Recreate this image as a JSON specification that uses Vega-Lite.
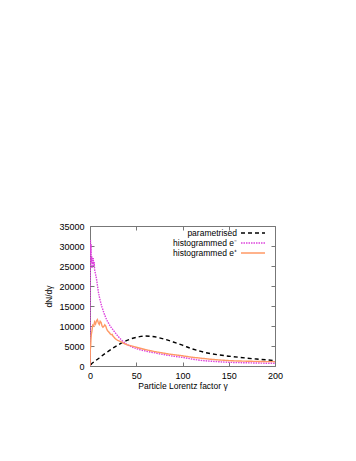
{
  "$schema": "https://vega.github.io/schema/vega-lite/v6.json",
  "autosize": {"type": "none"},
  "padding": {"left": 90, "top": 226, "right": 81, "bottom": 95},
  "width": 185,
  "height": 140,
  "background": "white",
  "config": {
    "font": "Liberation Sans",
    "view": {"stroke": "#777777", "strokeWidth": 1},
    "axis": {"domain": false, "grid": false, "tickColor": "#777777", "tickSize": -4, "labelFontSize": 9, "titleFontSize": 8.5, "titleFontWeight": "normal", "labelColor": "#000000", "titleColor": "#000000", "labelFont": "Liberation Sans", "titleFont": "Liberation Sans", "format": "d", "labelFlush": false, "labelOverlap": false}
  },
  "datasets": {
    "curves": [
      {"s": "parametrised", "g": 1, "v": 300}, {"s": "parametrised", "g": 2, "v": 650}, {"s": "parametrised", "g": 5, "v": 1150}, {"s": "parametrised", "g": 10, "v": 2000}, {"s": "parametrised", "g": 15, "v": 2900}, {"s": "parametrised", "g": 20, "v": 3700}, {"s": "parametrised", "g": 25, "v": 4500}, {"s": "parametrised", "g": 30, "v": 5200}, {"s": "parametrised", "g": 35, "v": 5900}, {"s": "parametrised", "g": 40, "v": 6400}, {"s": "parametrised", "g": 45, "v": 6850}, {"s": "parametrised", "g": 50, "v": 7150}, {"s": "parametrised", "g": 55, "v": 7400}, {"s": "parametrised", "g": 60, "v": 7500}, {"s": "parametrised", "g": 65, "v": 7450}, {"s": "parametrised", "g": 70, "v": 7300}, {"s": "parametrised", "g": 75, "v": 7050}, {"s": "parametrised", "g": 80, "v": 6750}, {"s": "parametrised", "g": 85, "v": 6400}, {"s": "parametrised", "g": 90, "v": 6000}, {"s": "parametrised", "g": 95, "v": 5600}, {"s": "parametrised", "g": 100, "v": 5200}, {"s": "parametrised", "g": 105, "v": 4750}, {"s": "parametrised", "g": 110, "v": 4300}, {"s": "parametrised", "g": 115, "v": 3950}, {"s": "parametrised", "g": 120, "v": 3650}, {"s": "parametrised", "g": 125, "v": 3350}, {"s": "parametrised", "g": 130, "v": 3100}, {"s": "parametrised", "g": 140, "v": 2750}, {"s": "parametrised", "g": 150, "v": 2450}, {"s": "parametrised", "g": 160, "v": 2200}, {"s": "parametrised", "g": 170, "v": 1950}, {"s": "parametrised", "g": 180, "v": 1750}, {"s": "parametrised", "g": 190, "v": 1550}, {"s": "parametrised", "g": 200, "v": 1350},

      {"s": "histogrammed e⁻", "g": 0, "v": 0}, {"s": "histogrammed e⁻", "g": 0.2, "v": 16000}, {"s": "histogrammed e⁻", "g": 0.5, "v": 31500}, {"s": "histogrammed e⁻", "g": 0.8, "v": 28000}, {"s": "histogrammed e⁻", "g": 1.1, "v": 30500}, {"s": "histogrammed e⁻", "g": 1.4, "v": 26000}, {"s": "histogrammed e⁻", "g": 1.8, "v": 27500}, {"s": "histogrammed e⁻", "g": 2.2, "v": 24500}, {"s": "histogrammed e⁻", "g": 2.6, "v": 27000}, {"s": "histogrammed e⁻", "g": 3.0, "v": 25500}, {"s": "histogrammed e⁻", "g": 3.5, "v": 27000}, {"s": "histogrammed e⁻", "g": 4.0, "v": 25000}, {"s": "histogrammed e⁻", "g": 4.5, "v": 26000}, {"s": "histogrammed e⁻", "g": 5, "v": 24000}, {"s": "histogrammed e⁻", "g": 6, "v": 23000}, {"s": "histogrammed e⁻", "g": 7, "v": 21800}, {"s": "histogrammed e⁻", "g": 8, "v": 20200}, {"s": "histogrammed e⁻", "g": 9, "v": 18600}, {"s": "histogrammed e⁻", "g": 10, "v": 17400}, {"s": "histogrammed e⁻", "g": 11, "v": 16400}, {"s": "histogrammed e⁻", "g": 12, "v": 15500}, {"s": "histogrammed e⁻", "g": 13, "v": 14700}, {"s": "histogrammed e⁻", "g": 14, "v": 14000}, {"s": "histogrammed e⁻", "g": 15, "v": 13300}, {"s": "histogrammed e⁻", "g": 16, "v": 12700}, {"s": "histogrammed e⁻", "g": 17, "v": 12100}, {"s": "histogrammed e⁻", "g": 18, "v": 11600}, {"s": "histogrammed e⁻", "g": 19, "v": 11100}, {"s": "histogrammed e⁻", "g": 20, "v": 10700}, {"s": "histogrammed e⁻", "g": 22, "v": 9900}, {"s": "histogrammed e⁻", "g": 24, "v": 9300}, {"s": "histogrammed e⁻", "g": 26, "v": 8700}, {"s": "histogrammed e⁻", "g": 28, "v": 8100}, {"s": "histogrammed e⁻", "g": 30, "v": 7500}, {"s": "histogrammed e⁻", "g": 32, "v": 7000}, {"s": "histogrammed e⁻", "g": 34, "v": 6500}, {"s": "histogrammed e⁻", "g": 36, "v": 6100}, {"s": "histogrammed e⁻", "g": 38, "v": 5700}, {"s": "histogrammed e⁻", "g": 40, "v": 5350}, {"s": "histogrammed e⁻", "g": 45, "v": 4800}, {"s": "histogrammed e⁻", "g": 50, "v": 4350}, {"s": "histogrammed e⁻", "g": 55, "v": 4000}, {"s": "histogrammed e⁻", "g": 60, "v": 3750}, {"s": "histogrammed e⁻", "g": 65, "v": 3500}, {"s": "histogrammed e⁻", "g": 70, "v": 3300}, {"s": "histogrammed e⁻", "g": 75, "v": 3050}, {"s": "histogrammed e⁻", "g": 80, "v": 2850}, {"s": "histogrammed e⁻", "g": 85, "v": 2650}, {"s": "histogrammed e⁻", "g": 90, "v": 2450}, {"s": "histogrammed e⁻", "g": 95, "v": 2300}, {"s": "histogrammed e⁻", "g": 100, "v": 2150}, {"s": "histogrammed e⁻", "g": 110, "v": 1750}, {"s": "histogrammed e⁻", "g": 120, "v": 1400}, {"s": "histogrammed e⁻", "g": 130, "v": 1200}, {"s": "histogrammed e⁻", "g": 140, "v": 1050}, {"s": "histogrammed e⁻", "g": 150, "v": 920}, {"s": "histogrammed e⁻", "g": 160, "v": 850}, {"s": "histogrammed e⁻", "g": 170, "v": 800}, {"s": "histogrammed e⁻", "g": 180, "v": 750}, {"s": "histogrammed e⁻", "g": 190, "v": 700}, {"s": "histogrammed e⁻", "g": 200, "v": 670},

      {"s": "histogrammed e⁺", "g": 0, "v": 0}, {"s": "histogrammed e⁺", "g": 0.3, "v": 4000}, {"s": "histogrammed e⁺", "g": 0.7, "v": 4800}, {"s": "histogrammed e⁺", "g": 1.0, "v": 6500}, {"s": "histogrammed e⁺", "g": 1.5, "v": 8000}, {"s": "histogrammed e⁺", "g": 2.0, "v": 8600}, {"s": "histogrammed e⁺", "g": 2.5, "v": 9500}, {"s": "histogrammed e⁺", "g": 3, "v": 10200}, {"s": "histogrammed e⁺", "g": 4, "v": 10000}, {"s": "histogrammed e⁺", "g": 5, "v": 11000}, {"s": "histogrammed e⁺", "g": 6, "v": 10500}, {"s": "histogrammed e⁺", "g": 7, "v": 11300}, {"s": "histogrammed e⁺", "g": 8, "v": 11600}, {"s": "histogrammed e⁺", "g": 9, "v": 10800}, {"s": "histogrammed e⁺", "g": 10, "v": 10400}, {"s": "histogrammed e⁺", "g": 11, "v": 11200}, {"s": "histogrammed e⁺", "g": 12, "v": 10900}, {"s": "histogrammed e⁺", "g": 13, "v": 10000}, {"s": "histogrammed e⁺", "g": 14, "v": 9700}, {"s": "histogrammed e⁺", "g": 15, "v": 9900}, {"s": "histogrammed e⁺", "g": 16, "v": 10300}, {"s": "histogrammed e⁺", "g": 17, "v": 10000}, {"s": "histogrammed e⁺", "g": 18, "v": 9300}, {"s": "histogrammed e⁺", "g": 19, "v": 8800}, {"s": "histogrammed e⁺", "g": 20, "v": 8600}, {"s": "histogrammed e⁺", "g": 21, "v": 8300}, {"s": "histogrammed e⁺", "g": 22, "v": 8000}, {"s": "histogrammed e⁺", "g": 23, "v": 7800}, {"s": "histogrammed e⁺", "g": 24, "v": 7900}, {"s": "histogrammed e⁺", "g": 25, "v": 7400}, {"s": "histogrammed e⁺", "g": 26, "v": 7200}, {"s": "histogrammed e⁺", "g": 27, "v": 6900}, {"s": "histogrammed e⁺", "g": 28, "v": 6700}, {"s": "histogrammed e⁺", "g": 30, "v": 6400}, {"s": "histogrammed e⁺", "g": 32, "v": 6200}, {"s": "histogrammed e⁺", "g": 34, "v": 6000}, {"s": "histogrammed e⁺", "g": 36, "v": 5700}, {"s": "histogrammed e⁺", "g": 38, "v": 5500}, {"s": "histogrammed e⁺", "g": 40, "v": 5300}, {"s": "histogrammed e⁺", "g": 45, "v": 5000}, {"s": "histogrammed e⁺", "g": 50, "v": 4700}, {"s": "histogrammed e⁺", "g": 55, "v": 4400}, {"s": "histogrammed e⁺", "g": 60, "v": 4100}, {"s": "histogrammed e⁺", "g": 65, "v": 3850}, {"s": "histogrammed e⁺", "g": 70, "v": 3600}, {"s": "histogrammed e⁺", "g": 75, "v": 3400}, {"s": "histogrammed e⁺", "g": 80, "v": 3200}, {"s": "histogrammed e⁺", "g": 85, "v": 3000}, {"s": "histogrammed e⁺", "g": 90, "v": 2850}, {"s": "histogrammed e⁺", "g": 95, "v": 2700}, {"s": "histogrammed e⁺", "g": 100, "v": 2550}, {"s": "histogrammed e⁺", "g": 110, "v": 2200}, {"s": "histogrammed e⁺", "g": 120, "v": 1950}, {"s": "histogrammed e⁺", "g": 130, "v": 1700}, {"s": "histogrammed e⁺", "g": 140, "v": 1500}, {"s": "histogrammed e⁺", "g": 150, "v": 1350}, {"s": "histogrammed e⁺", "g": 160, "v": 1250}, {"s": "histogrammed e⁺", "g": 170, "v": 1200}, {"s": "histogrammed e⁺", "g": 180, "v": 1150}, {"s": "histogrammed e⁺", "g": 190, "v": 1100}, {"s": "histogrammed e⁺", "g": 200, "v": 1080}
    ]
  },
  "data": {"name": "curves"},
  "layer": [
    {
      "mark": {"type": "line", "strokeWidth": 1.4, "clip": true},
      "encoding": {
        "x": {"field": "g", "type": "quantitative", "scale": {"domain": [0, 200], "nice": false, "zero": false},
              "axis": {"title": "Particle Lorentz factor γ", "values": [0, 50, 100, 150, 200], "labelPadding": 9, "titlePadding": 1}},
        "y": {"field": "v", "type": "quantitative", "scale": {"domain": [0, 35000], "nice": false},
              "axis": {"title": "dN/dγ", "values": [0, 5000, 10000, 15000, 20000, 25000, 30000, 35000], "labelPadding": 10, "titlePadding": 5}},
        "color": {"field": "s", "type": "nominal", "sort": null,
                  "scale": {"domain": ["parametrised", "histogrammed e⁻", "histogrammed e⁺"], "range": ["#000000", "#dd44dd", "#ff9966"]},
                  "legend": {"title": null, "orient": "none", "legendX": 158, "legendY": 2, "symbolType": "M-3,0H3", "symbolSize": 64, "symbolStrokeWidth": 1.4, "labelAlign": "right", "labelOffset": -21, "labelFontSize": 8.5, "labelFont": "Liberation Sans", "rowPadding": -1, "padding": 0}},
        "strokeDash": {"field": "s", "type": "nominal", "sort": null,
                       "scale": {"domain": ["parametrised", "histogrammed e⁻", "histogrammed e⁺"], "range": [[4, 3], [1.5, 1], [1, 0]]},
                       "legend": {"title": null, "orient": "none", "legendX": 158, "legendY": 2, "symbolType": "M-3,0H3", "symbolSize": 64, "symbolStrokeWidth": 1.4, "labelAlign": "right", "labelOffset": -21, "labelFontSize": 8.5, "labelFont": "Liberation Sans", "rowPadding": -1, "padding": 0}}
      }
    },
    {
      "mark": {"type": "point", "opacity": 0},
      "encoding": {
        "x": {"field": "g", "type": "quantitative", "scale": {"domain": [0, 200], "nice": false, "zero": false},
              "axis": {"orient": "top", "title": null, "labels": false, "values": [0, 50, 100, 150, 200]}},
        "y": {"field": "v", "type": "quantitative", "scale": {"domain": [0, 35000], "nice": false},
              "axis": {"orient": "right", "title": null, "labels": false, "values": [0, 5000, 10000, 15000, 20000, 25000, 30000, 35000]}}
      }
    }
  ],
  "resolve": {"axis": {"x": "independent", "y": "independent"}}
}
